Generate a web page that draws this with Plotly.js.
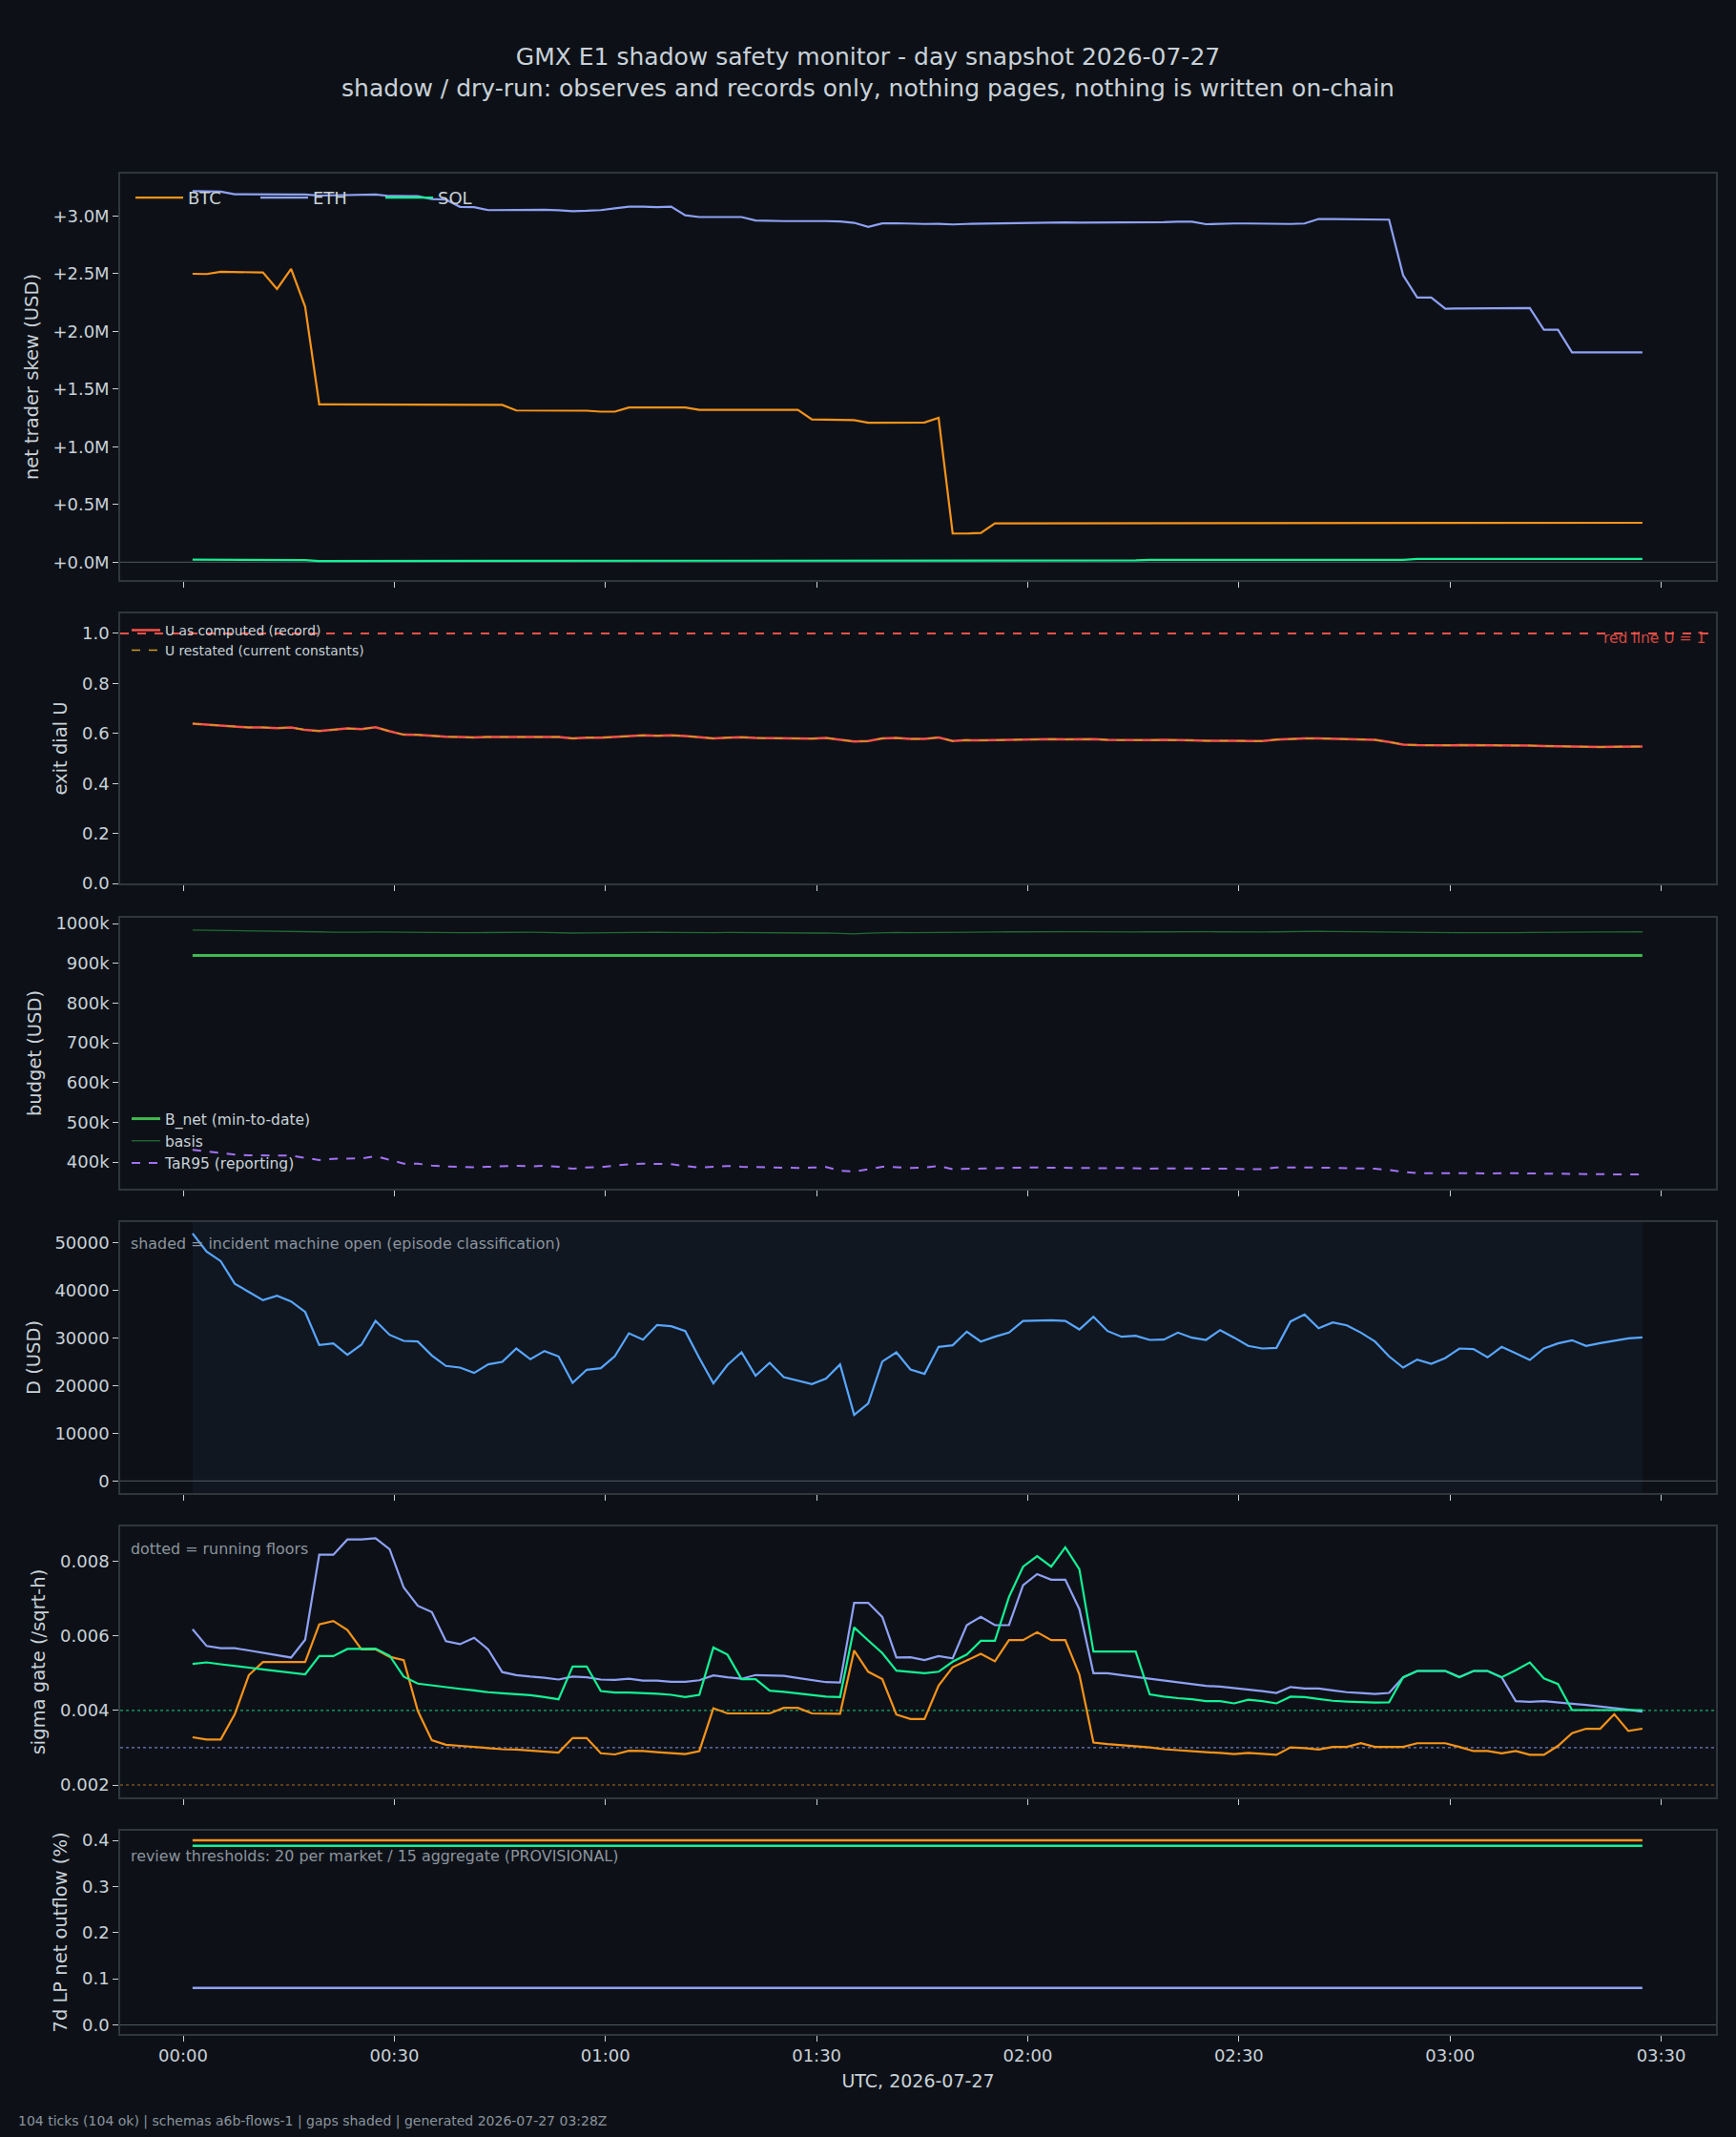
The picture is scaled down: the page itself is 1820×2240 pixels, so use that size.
<!DOCTYPE html>
<html><head><meta charset="utf-8">
<script src="https://cdn.plot.ly/plotly-3.0.1.min.js"></script>
<style>html,body{margin:0;padding:0;background:#0d1117;}#chart{width:1820px;height:2240px;}</style>
</head><body><div id="chart"></div>
<script>
// ---- tick schedule (monitor cadence: 104 ticks, one every 2 minutes) ----
const TICK_START_UTC = [2026, 6, 27, 0, 1, 20];
const TICK_STEP_MIN = 2;
const N_TICKS = 104;

// ---- panel 1: net trader skew (USD millions) ----
const skewBTC = [2.498,2.496,2.515,2.512,2.510,2.510,2.366,2.540,2.212,1.367,
 1.367,1.367,1.368,1.368,1.368,1.368,1.367,1.367,1.366,1.363,
 1.363,1.362,1.362,1.314,1.314,1.314,1.313,1.313,1.312,1.304,
 1.304,1.340,1.340,1.340,1.340,1.340,1.320,1.320,1.320,1.320,
 1.320,1.320,1.320,1.320,1.236,1.236,1.236,1.230,1.208,1.210,
 1.210,1.210,1.210,1.250,0.248,0.248,0.253,0.336,0.336,0.336,
 0.336,0.336,0.337,0.337,0.337,0.337,0.337,0.338,0.338,0.338,
 0.338,0.338,0.338,0.338,0.338,0.339,0.339,0.339,0.339,0.339,
 0.339,0.339,0.339,0.340,0.340,0.340,0.340,0.340,0.340,0.340,
 0.340,0.340,0.340,0.340,0.341,0.341,0.341,0.341,0.341,0.341,
 0.341,0.341,0.341,0.341];
const skewETH = [3.215,3.215,3.210,3.188,3.186,3.186,3.186,3.186,3.186,3.176,
 3.178,3.180,3.182,3.185,3.172,3.171,3.171,3.146,3.141,3.078,
 3.075,3.050,3.052,3.052,3.054,3.053,3.048,3.041,3.044,3.050,
 3.066,3.080,3.080,3.075,3.080,3.005,2.990,2.990,2.995,2.990,
 2.960,2.955,2.955,2.955,2.957,2.955,2.952,2.940,2.905,2.935,
 2.936,2.932,2.930,2.931,2.926,2.930,2.932,2.934,2.938,2.942,
 2.942,2.942,2.943,2.942,2.942,2.940,2.940,2.941,2.942,2.945,
 2.950,2.950,2.928,2.934,2.934,2.934,2.933,2.926,2.930,2.934,
 2.973,2.973,2.972,2.971,2.970,2.967,2.485,2.293,2.293,2.196,
 2.198,2.198,2.199,2.199,2.200,2.202,2.014,2.014,1.818,1.818,
 1.815,1.815,1.816,1.818];
const skewSOL = [0.022,0.022,0.022,0.022,0.022,0.017,0.017,0.017,0.017,0.010,
 0.010,0.010,0.010,0.010,0.010,0.010,0.010,0.010,0.010,0.010,
 0.010,0.010,0.010,0.010,0.010,0.010,0.010,0.010,0.010,0.010,
 0.010,0.010,0.010,0.010,0.010,0.010,0.010,0.010,0.010,0.010,
 0.010,0.010,0.010,0.010,0.010,0.010,0.012,0.012,0.012,0.012,
 0.012,0.012,0.012,0.012,0.012,0.012,0.012,0.012,0.015,0.015,
 0.015,0.015,0.015,0.015,0.015,0.015,0.015,0.015,0.020,0.020,
 0.020,0.020,0.020,0.020,0.020,0.020,0.020,0.020,0.020,0.020,
 0.020,0.020,0.020,0.020,0.020,0.020,0.020,0.028,0.028,0.028,
 0.028,0.028,0.028,0.028,0.028,0.028,0.028,0.028,0.028,0.028,
 0.028,0.028,0.028,0.028];
const skewTicksM = [0, 0.5, 1.0, 1.5, 2.0, 2.5, 3.0];

// ---- panel 2: exit dial U ----
const uComputed = [0.639,0.635,0.632,0.626,0.624,0.624,0.621,0.624,0.614,0.610,
 0.614,0.620,0.617,0.625,0.609,0.595,0.594,0.590,0.587,0.586,
 0.584,0.586,0.586,0.588,0.586,0.587,0.586,0.580,0.583,0.583,
 0.586,0.590,0.592,0.591,0.592,0.590,0.585,0.580,0.583,0.585,
 0.582,0.581,0.580,0.578,0.579,0.582,0.576,0.568,0.570,0.580,
 0.582,0.578,0.578,0.584,0.570,0.573,0.572,0.573,0.575,0.576,
 0.578,0.577,0.576,0.576,0.577,0.574,0.573,0.573,0.573,0.574,
 0.574,0.572,0.571,0.572,0.571,0.570,0.570,0.575,0.578,0.580,
 0.580,0.579,0.578,0.576,0.574,0.566,0.555,0.553,0.552,0.552,
 0.553,0.553,0.552,0.553,0.552,0.551,0.550,0.549,0.547,0.546,
 0.546,0.547,0.547,0.548];
const uRestated = uComputed.slice();
const U_RED_LINE = 1.0;

// ---- panel 3: budget (thousand USD) ----
const bNetK = 919.4;
const basisK = [983.3,983.0,982.5,982.0,981.5,981.0,980.9,980.5,980.0,979.0,
 978.0,977.5,978.0,978.5,978.0,978.5,978.0,977.5,977.0,977.0,
 977.0,977.5,978.0,978.5,978.0,977.5,976.5,976.0,976.5,977.0,
 977.5,978.0,978.5,978.0,977.5,977.0,976.5,977.0,977.5,977.0,
 977.0,976.5,976.5,976.5,976.0,976.5,975.0,974.0,975.5,977.0,
 977.5,977.0,977.0,978.0,977.0,977.5,978.0,978.5,979.0,979.5,
 980.0,980.0,979.5,979.5,979.0,979.0,978.5,978.5,979.0,979.5,
 980.0,980.0,979.5,979.0,978.5,978.0,978.5,979.0,980.0,980.5,
 980.5,980.0,979.5,979.0,978.5,978.0,977.5,977.5,977.0,977.0,
 977.0,977.0,976.5,976.5,977.0,977.5,978.0,978.0,977.5,978.0,
 978.5,978.5,979.0,979.0];
const tar95K = [430.5,426.5,422.0,418.5,417.0,416.0,416.0,416.0,410.5,405.0,
 408.0,408.5,409.0,414.5,405.0,396.0,396.0,391.0,389.0,388.0,
 387.0,388.0,389.0,390.5,389.0,390.5,388.0,383.0,386.5,387.0,
 391.0,394.5,396.0,396.0,394.5,390.0,386.0,388.0,390.0,388.0,
 387.0,386.0,386.5,385.0,386.0,387.5,378.0,376.0,382.0,388.0,
 387.0,385.0,386.0,390.0,382.0,383.0,383.5,384.0,385.0,386.0,
 386.0,385.5,385.0,384.0,384.0,384.5,385.0,384.0,383.5,384.0,
 384.0,383.5,383.0,384.0,383.0,382.0,382.0,386.0,387.0,386.5,
 386.0,385.5,385.0,384.0,383.0,380.0,375.0,372.0,371.5,371.5,
 372.0,372.0,371.0,372.0,371.5,371.0,370.5,370.0,369.5,369.0,
 369.5,369.0,368.5,369.0];
const budgetTicksK = [400, 500, 600, 700, 800, 900, 1000];

// ---- panel 4: D (USD) ----
const dUSD = [51930,48130,46130,41390,39660,37930,38860,37660,35460,28530,
 28860,26460,28590,33590,30660,29390,29260,26330,24130,23790,
 22660,24460,24990,27790,25530,27260,26130,20590,23330,23660,
 26190,30990,29660,32730,32460,31460,25790,20460,24330,27000,
 22060,24790,21790,21130,20330,21460,24460,13860,16260,25060,
 26990,23390,22460,28130,28460,31330,29260,30260,31130,33590,
 33660,33730,33590,31790,34460,31460,30260,30460,29590,29660,
 31130,30060,29590,31660,30060,28330,27790,27930,33460,34930,
 32060,33260,32660,31130,29260,26130,23790,25460,24590,25790,
 27790,27660,25930,28130,26790,25390,27790,28860,29530,28330,
 28930,29390,29930,30130];

// ---- panel 5: sigma gate (/sqrt-h) ----
const sigmaBTC = [0.00328,0.00322,0.00322,0.00390,0.00495,0.00530,0.00530,0.00530,0.00530,0.00631,
 0.00640,0.00616,0.00564,0.00564,0.00544,0.00535,0.00399,0.00320,0.00308,0.00305,
 0.00302,0.00298,0.00296,0.00295,0.00292,0.00290,0.00287,0.00326,0.00326,0.00285,
 0.00282,0.00292,0.00291,0.00288,0.00286,0.00283,0.00291,0.00406,0.00392,0.00392,
 0.00392,0.00392,0.00407,0.00407,0.00392,0.00392,0.00391,0.00561,0.00504,0.00484,
 0.00389,0.00377,0.00377,0.00467,0.00516,0.00534,0.00552,0.00532,0.00589,0.00589,
 0.00610,0.00589,0.00589,0.00496,0.00314,0.00310,0.00307,0.00304,0.00301,0.00296,
 0.00293,0.00291,0.00288,0.00286,0.00283,0.00286,0.00284,0.00281,0.00301,0.00299,
 0.00295,0.00302,0.00302,0.00312,0.00302,0.00302,0.00302,0.00312,0.00312,0.00312,
 0.00302,0.00291,0.00291,0.00285,0.00291,0.00281,0.00281,0.00305,0.00339,0.00351,
 0.00351,0.00390,0.00345,0.00351];
const sigmaETH = [0.00618,0.00573,0.00567,0.00567,0.00561,0.00555,0.00549,0.00542,0.00590,0.00818,
 0.00818,0.00859,0.00859,0.00862,0.00833,0.00730,0.00681,0.00664,0.00586,0.00578,
 0.00595,0.00564,0.00503,0.00495,0.00491,0.00488,0.00483,0.00491,0.00489,0.00483,
 0.00482,0.00485,0.00480,0.00480,0.00477,0.00477,0.00481,0.00494,0.00489,0.00485,
 0.00495,0.00494,0.00493,0.00487,0.00481,0.00476,0.00475,0.00689,0.00689,0.00651,
 0.00542,0.00543,0.00535,0.00546,0.00540,0.00629,0.00651,0.00629,0.00629,0.00736,
 0.00766,0.00751,0.00751,0.00672,0.00500,0.00500,0.00495,0.00490,0.00486,0.00480,
 0.00476,0.00471,0.00466,0.00464,0.00460,0.00457,0.00452,0.00447,0.00463,0.00459,
 0.00459,0.00454,0.00449,0.00447,0.00444,0.00447,0.00489,0.00506,0.00506,0.00506,
 0.00490,0.00506,0.00506,0.00489,0.00425,0.00423,0.00425,0.00421,0.00418,0.00415,
 0.00411,0.00407,0.00402,0.00397];
const sigmaSOL = [0.00525,0.00529,0.00524,0.00520,0.00515,0.00510,0.00506,0.00502,0.00497,0.00546,
 0.00546,0.00565,0.00565,0.00566,0.00547,0.00491,0.00472,0.00467,0.00463,0.00458,
 0.00454,0.00449,0.00446,0.00443,0.00441,0.00436,0.00430,0.00518,0.00518,0.00452,
 0.00448,0.00448,0.00447,0.00445,0.00442,0.00436,0.00442,0.00569,0.00550,0.00484,
 0.00484,0.00453,0.00450,0.00446,0.00441,0.00437,0.00436,0.00623,0.00588,0.00554,
 0.00507,0.00504,0.00500,0.00504,0.00531,0.00550,0.00587,0.00587,0.00705,0.00786,
 0.00814,0.00786,0.00838,0.00779,0.00558,0.00558,0.00558,0.00558,0.00443,0.00437,
 0.00433,0.00430,0.00425,0.00425,0.00419,0.00429,0.00425,0.00419,0.00437,0.00436,
 0.00431,0.00426,0.00424,0.00422,0.00421,0.00422,0.00489,0.00506,0.00506,0.00506,
 0.00489,0.00506,0.00506,0.00489,0.00508,0.00529,0.00486,0.00471,0.00401,0.00401,
 0.00401,0.00401,0.00401,0.00401];
const floorBTC = 0.002, floorETH = 0.003, floorSOL = 0.004;

// ---- panel 6: 7d LP net outflow (%) ----
const lpBTC = 0.400, lpSOL = 0.388, lpETH = 0.080;

// ---- text ----
const titleLines = ['GMX E1 shadow safety monitor - day snapshot 2026-07-27',
  'shadow / dry-run: observes and records only, nothing pages, nothing is written on-chain'];
const footerText = '104 ticks (104 ok) | schemas a6b-flows-1 | gaps shaded | generated 2026-07-27 03:28Z';

// ---- colours ----
const C = {bg:'#0d1117', frame:'#30363d', text:'#c9d1d9', muted:'#8b949e',
  btc:'#f7931a', eth:'#8fa1f4', sol:'#14f195', d:'#58a6ff', red:'#f85149',
  restated:'#d29922', bnet:'#3fb950', basis:'rgba(46,160,67,0.62)', tar:'#a371f7'};

// ---- build times ----
const t0 = Date.UTC.apply(null, TICK_START_UTC);
const times = [];
for (let i = 0; i < N_TICKS; i++) {
  times.push(new Date(t0 + i*TICK_STEP_MIN*60000).toISOString().slice(0,19).replace('T',' '));
}
const konst = v => times.map(() => v);

// ---- geometry ----
const W = 1820, H = 2240, L = 126, R = 1799, T = 181, B = 2132;
const ph = B - T, pw = R - L;
const ydom = (top, bot) => [(B - bot)/ph, (B - top)/ph];
const px = x => (x - L)/pw, py = y => (B - y)/ph;
const FF = 'DejaVu Sans';

const xRange = ['2026-07-26 23:51:03', '2026-07-27 03:37:47'];
function xax(n, labels) {
  return {type:'date', range:xRange, anchor:'y'+n, tickformat:'%H:%M', dtick:1800000,
    tick0:'2026-07-27 00:00:00', showticklabels:labels, showline:true, mirror:true,
    linecolor:C.frame, linewidth:1.5, ticks:'outside', ticklen:6, tickwidth:1.2,
    tickcolor:C.text, tickfont:{family:FF, size:18, color:C.text},
    showgrid:false, zeroline:false};
}
function yax(n, dom, range, extra, title) {
  return Object.assign({domain:dom, range:range, anchor:'x'+n, showline:true, mirror:true,
    linecolor:C.frame, linewidth:1.5, ticks:'outside', ticklen:6, tickwidth:1.2,
    tickcolor:C.text, tickfont:{family:FF, size:18, color:C.text},
    showgrid:false, zeroline:false,
    title:{text:title, font:{family:FF, size:19.5, color:C.text}, standoff:10}}, extra);
}

const traces = [
  {x:times, y:skewBTC, name:'BTC', xaxis:'x', yaxis:'y', mode:'lines', line:{color:C.btc, width:2.2}, legend:'legend'},
  {x:times, y:skewETH, name:'ETH', xaxis:'x', yaxis:'y', mode:'lines', line:{color:C.eth, width:2.2}, legend:'legend'},
  {x:times, y:skewSOL, name:'SOL', xaxis:'x', yaxis:'y', mode:'lines', line:{color:C.sol, width:2.2}, legend:'legend'},

  {x:times, y:uComputed, name:'U as computed (record)', xaxis:'x2', yaxis:'y2', mode:'lines', line:{color:C.red, width:2.5}, legend:'legend2'},
  {x:times, y:uRestated, name:'U restated (current constants)', xaxis:'x2', yaxis:'y2', mode:'lines', line:{color:C.restated, width:1.5, dash:'dash'}, legend:'legend2'},

  {x:times, y:konst(bNetK), name:'B_net (min-to-date)', xaxis:'x3', yaxis:'y3', mode:'lines', line:{color:C.bnet, width:3}, legend:'legend3'},
  {x:times, y:basisK, name:'basis', xaxis:'x3', yaxis:'y3', mode:'lines', line:{color:C.basis, width:1.3}, legend:'legend3'},
  {x:times, y:tar95K, name:'TaR95 (reporting)', xaxis:'x3', yaxis:'y3', mode:'lines', line:{color:C.tar, width:2, dash:'dash'}, legend:'legend3'},

  {x:times, y:dUSD, name:'D', xaxis:'x4', yaxis:'y4', mode:'lines', line:{color:C.d, width:2.2}, showlegend:false},

  {x:times, y:sigmaBTC, name:'BTC', xaxis:'x5', yaxis:'y5', mode:'lines', line:{color:C.btc, width:2.2}, showlegend:false},
  {x:times, y:sigmaETH, name:'ETH', xaxis:'x5', yaxis:'y5', mode:'lines', line:{color:C.eth, width:2.2}, showlegend:false},
  {x:times, y:sigmaSOL, name:'SOL', xaxis:'x5', yaxis:'y5', mode:'lines', line:{color:C.sol, width:2.2}, showlegend:false},

  {x:times, y:konst(lpBTC), name:'BTC', xaxis:'x6', yaxis:'y6', mode:'lines', line:{color:C.btc, width:2.5}, showlegend:false},
  {x:times, y:konst(lpSOL), name:'SOL', xaxis:'x6', yaxis:'y6', mode:'lines', line:{color:C.sol, width:2.5}, showlegend:false},
  {x:times, y:konst(lpETH), name:'ETH', xaxis:'x6', yaxis:'y6', mode:'lines', line:{color:C.eth, width:2.5}, showlegend:false}
];

const hline = (n, y, color, width, dash) => ({type:'line', xref:'x'+(n===1?'':n)+' domain', x0:0, x1:1,
  yref:'y'+(n===1?'':n), y0:y, y1:y, line:{color:color, width:width, dash:dash||'solid'}, layer:'below'});

const shapes = [
  hline(1, 0, 'rgba(139,148,158,0.55)', 1),
  Object.assign(hline(2, U_RED_LINE, C.red, 2, 'dash'), {layer:'above'}),
  {type:'rect', xref:'x4', x0:times[0], x1:times[N_TICKS-1], yref:'y4 domain', y0:0, y1:1,
   fillcolor:'rgba(88,166,255,0.045)', line:{width:0}, layer:'below'},
  hline(4, 0, 'rgba(139,148,158,0.55)', 1),
  hline(5, floorSOL, 'rgba(20,241,149,0.7)', 1.2, 'dot'),
  hline(5, floorETH, 'rgba(143,161,244,0.75)', 1.2, 'dot'),
  hline(5, floorBTC, 'rgba(247,147,26,0.7)', 1.2, 'dot'),
  hline(6, 0, 'rgba(139,148,158,0.55)', 1)
];

const annFont = (s, c) => ({family:FF, size:s, color:c});
const annotations = [
  {xref:'paper', yref:'paper', x:px(1790), y:py(669), xanchor:'right', yanchor:'middle', showarrow:false,
   text:'red line U = 1', font:annFont(15.5, 'rgba(248,81,73,0.85)')},
  {xref:'paper', yref:'paper', x:px(135), y:py(1303), xanchor:'left', yanchor:'middle', showarrow:false,
   text:'shaded = incident machine open (episode classification)', font:annFont(15.9, C.muted)},
  {xref:'paper', yref:'paper', x:px(135), y:py(1623), xanchor:'left', yanchor:'middle', showarrow:false,
   text:'dotted = running floors', font:annFont(15.9, C.muted)},
  {xref:'paper', yref:'paper', x:px(135), y:py(1945), xanchor:'left', yanchor:'middle', showarrow:false,
   text:'review thresholds: 20 per market / 15 aggregate (PROVISIONAL)', font:annFont(15.9, C.muted)},
  {xref:'paper', yref:'paper', x:px(17), y:py(2223), xanchor:'left', yanchor:'middle', showarrow:false,
   text:footerText, font:annFont(14, C.muted)}
];

const layout = {
  width:W, height:H, paper_bgcolor:C.bg, plot_bgcolor:C.bg,
  margin:{l:L, r:W-R, t:T, b:H-B, pad:0},
  font:{family:FF, color:C.text},
  title:{text:titleLines.join('<br>'), font:{family:FF, size:25, color:C.text},
    x:0.5, xref:'container', xanchor:'center', y:1-68/H, yref:'container', yanchor:'top'},
  showlegend:true,
  legend:{orientation:'h', x:px(137), y:py(189), xanchor:'left', yanchor:'top', bgcolor:'rgba(0,0,0,0)',
    font:{family:FF, size:18, color:C.text}, entrywidth:66, entrywidthmode:'pixels', itemwidth:50},
  legend2:{x:px(133), y:py(645), xanchor:'left', yanchor:'top', bgcolor:'rgba(0,0,0,0)',
    font:{family:FF, size:13.8, color:C.text}, tracegroupgap:0},
  legend3:{x:px(133), y:py(1236), xanchor:'left', yanchor:'bottom', bgcolor:'rgba(0,0,0,0)',
    font:{family:FF, size:15.5, color:C.text}},
  xaxis:xax(1, false), xaxis2:xax(2, false), xaxis3:xax(3, false),
  xaxis4:xax(4, false), xaxis5:xax(5, false),
  xaxis6:Object.assign(xax(6, true), {title:{text:'UTC, 2026-07-27', font:{family:FF, size:19, color:C.text}, standoff:10}}),
  yaxis:yax(1, ydom(182, 608), [-0.155, 3.366], {tickmode:'array', tickvals:skewTicksM,
    ticktext:skewTicksM.map(v => '+' + v.toFixed(1) + 'M')}, 'net trader skew (USD)'),
  yaxis2:yax(2, ydom(643, 926), [0, 1.08], {tickvals:[0,0.2,0.4,0.6,0.8,1.0], tickformat:'.1f'}, 'exit dial U'),
  yaxis3:yax(3, ydom(962, 1246), [332.8, 1014.4], {tickmode:'array', tickvals:budgetTicksK,
    ticktext:budgetTicksK.map(v => v + 'k')}, 'budget (USD)'),
  yaxis4:yax(4, ydom(1281, 1565), [-2540, 54320], {tickvals:[0,10000,20000,30000,40000,50000], tickformat:'d'}, 'D (USD)'),
  yaxis5:yax(5, ydom(1600, 1884), [0.001667, 0.00894], {tickvals:[0.002,0.004,0.006,0.008], tickformat:'.3f'}, 'sigma gate (/sqrt-h)'),
  yaxis6:yax(6, ydom(1919, 2132), [-0.0195, 0.4207], {tickvals:[0,0.1,0.2,0.3,0.4], tickformat:'.1f'}, '7d LP net outflow (%)'),
  shapes:shapes, annotations:annotations
};

Plotly.newPlot('chart', traces, layout, {displayModeBar:false, responsive:false});
</script>
</body></html>
